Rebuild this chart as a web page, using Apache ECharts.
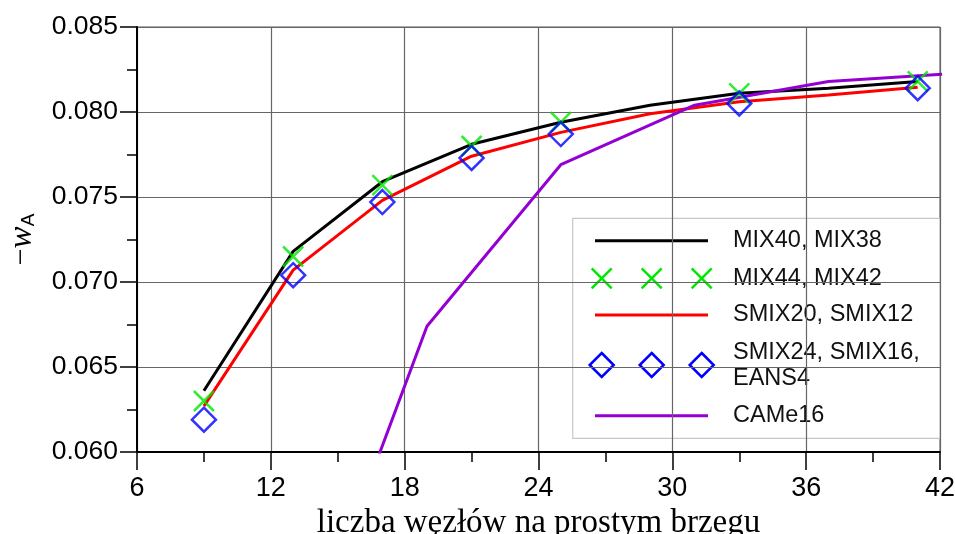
<!DOCTYPE html>
<html>
<head>
<meta charset="utf-8">
<script src="https://cdn.jsdelivr.net/npm/echarts@6/dist/echarts.min.js"></script>
<style>html,body{margin:0;padding:0;background:#fff;}#c{width:955px;height:534px;}</style>
</head>
<body>
<div id="c"></div>
<script>
// ---- data ----
const xLines = [9, 13, 17, 21, 25, 29, 33, 37, 41];
const mix40 = [0.0636, 0.0718, 0.0759, 0.0781, 0.0794, 0.0804, 0.0811, 0.0814, 0.0818];
const smix20 = [0.0627, 0.0707, 0.0748, 0.0774, 0.0788, 0.0799, 0.0806, 0.0810, 0.08145];
const xMarks = [9, 13, 17, 21, 25, 33, 41];
const mix44 = [0.0630, 0.0715, 0.0757, 0.0780, 0.0794, 0.0811, 0.0818];
const smix24 = [0.0619, 0.0704, 0.0747, 0.0773, 0.0787, 0.0805, 0.0814];
const xCame = [13, 19, 25, 31, 37, 43];
const came16 = [0.0463, 0.0674, 0.0769, 0.0804, 0.0818, 0.0823];
const legendNames = ['MIX40, MIX38', 'MIX44, MIX42', 'SMIX20, SMIX12', 'SMIX24, SMIX16,\nEANS4', 'CAMe16'];
const xTicks = {min: 6, max: 42, interval: 6};
const yTicks = {min: 0.060, max: 0.085, interval: 0.005};

const pairs = (xs, ys) => xs.map((x, i) => [x, ys[i]]);

const C_BLACK = '#000000', C_GREEN = '#00e600', C_RED = '#ff0000', C_BLUE = '#0000ff', C_PURPLE = '#9400d3';
const XPATH = 'path://M0,0 L10,10 M10,0 L0,10';

const chart = echarts.init(document.getElementById('c'), null, {renderer: 'canvas'});

// legend drawn as graphic (three markers per row as in reference)
const LX0 = 595, LX1 = 708, LMK = [601.7, 651.7, 701.7], LTX = 733;
const rows = [240.7, 278.3, 315, 365, 415.7];
function xMark(cx, cy, s) {
  return [
    {type: 'line', shape: {x1: cx - s, y1: cy - s, x2: cx + s, y2: cy + s}, style: {stroke: C_GREEN, lineWidth: 2.5}},
    {type: 'line', shape: {x1: cx - s, y1: cy + s, x2: cx + s, y2: cy - s}, style: {stroke: C_GREEN, lineWidth: 2.5}}
  ];
}
function dMark(cx, cy, s) {
  return {type: 'polygon', shape: {points: [[cx, cy - s], [cx + s, cy], [cx, cy + s], [cx - s, cy]]}, style: {fill: 'none', stroke: C_BLUE, lineWidth: 2.5}};
}
const textStyle = (t, y) => ({type: 'text', x: LTX, y: y, style: {text: t, font: '23.5px "Liberation Sans"', fill: '#111', verticalAlign: 'middle', lineHeight: 26}});
const legendEls = [
  {type: 'rect', shape: {x: 572.7, y: 218.3, width: 367.3, height: 220}, style: {fill: '#fff', stroke: '#c8c8c8', lineWidth: 1.2}},
  {type: 'line', shape: {x1: LX0, y1: rows[0], x2: LX1, y2: rows[0]}, style: {stroke: C_BLACK, lineWidth: 3}},
  textStyle(legendNames[0], rows[0]),
  ...LMK.flatMap(cx => xMark(cx, rows[1], 10)),
  textStyle(legendNames[1], rows[1]),
  {type: 'line', shape: {x1: LX0, y1: rows[2], x2: LX1, y2: rows[2]}, style: {stroke: C_RED, lineWidth: 3}},
  textStyle(legendNames[2], rows[2]),
  ...LMK.map(cx => dMark(cx, rows[3], 12)),
  textStyle(legendNames[3], rows[3] + 1),
  {type: 'line', shape: {x1: LX0, y1: rows[4], x2: LX1, y2: rows[4]}, style: {stroke: C_PURPLE, lineWidth: 3}},
  textStyle(legendNames[4], rows[4])
];

const option = {
  animation: false,
  backgroundColor: '#fff',
  grid: {left: 137, right: 15, top: 27, bottom: 82, containLabel: false, outerBoundsMode: 'none', show: true, borderColor: '#555', borderWidth: 1, backgroundColor: 'transparent'},
  xAxis: {
    type: 'value', min: xTicks.min, max: xTicks.max, interval: xTicks.interval,
    axisLine: {onZero: false, lineStyle: {color: '#000', width: 2}},
    axisTick: {show: true, length: 18, lineStyle: {color: '#000', width: 1.5}},
    minorTick: {show: true, splitNumber: 2, length: 10, lineStyle: {color: '#000', width: 1.5}},
    splitLine: {show: true, lineStyle: {color: '#666', width: 1.2}},
    axisLabel: {fontSize: 27, fontFamily: 'Liberation Sans', color: '#000', margin: 23, showMinLabel: true, showMaxLabel: true},
    name: 'liczba węzłów na prostym brzegu', nameLocation: 'middle', nameGap: 46,
    nameTextStyle: {fontFamily: 'Liberation Serif', fontSize: 33, color: '#000'}
  },
  yAxis: {
    type: 'value', min: yTicks.min, max: yTicks.max, interval: yTicks.interval,
    axisLine: {onZero: false, lineStyle: {color: '#000', width: 2}},
    axisTick: {show: true, length: 17, lineStyle: {color: '#000', width: 1.5}},
    minorTick: {show: true, splitNumber: 2, length: 10, lineStyle: {color: '#000', width: 1.5}},
    splitLine: {show: true, lineStyle: {color: '#666', width: 1.2}},
    axisLabel: {fontSize: 26.5, fontFamily: 'Liberation Sans', color: '#000', margin: 19, formatter: v => v.toFixed(3), showMinLabel: true, showMaxLabel: true},
    name: '{m|−}{w|w}{s|A}', nameLocation: 'middle', nameGap: 99, nameRotate: 90,
    nameTextStyle: {
      color: '#000',
      rich: {
        m: {fontFamily: 'Liberation Serif', fontSize: 30, color: '#000', lineHeight: 32},
        w: {fontFamily: 'Liberation Serif', fontStyle: 'italic', fontSize: 33, color: '#000', lineHeight: 32},
        s: {fontFamily: 'Liberation Sans', fontSize: 19, color: '#000', verticalAlign: 'bottom', lineHeight: 19}
      }
    }
  },
  series: [
    {name: legendNames[0], type: 'line', data: pairs(xLines, mix40), showSymbol: false, symbol: 'none', lineStyle: {color: C_BLACK, width: 3}, z: 3},
    {name: legendNames[1], type: 'scatter', data: pairs(xMarks, mix44), symbol: XPATH, symbolSize: 20, itemStyle: {color: 'rgba(0,0,0,0)', borderColor: C_GREEN, borderWidth: 2.5}, z: 4},
    {name: legendNames[2], type: 'line', data: pairs(xLines, smix20), showSymbol: false, symbol: 'none', lineStyle: {color: C_RED, width: 3}, z: 3},
    {name: legendNames[3], type: 'scatter', data: pairs(xMarks, smix24), symbol: 'diamond', symbolSize: [24, 24], itemStyle: {color: 'rgba(0,0,0,0)', borderColor: C_BLUE, borderWidth: 2.5}, z: 4},
    {name: legendNames[4], type: 'line', data: pairs(xCame, came16), showSymbol: false, symbol: 'none', lineStyle: {color: C_PURPLE, width: 3}, clip: true, z: 3}
  ],
  graphic: [{type: 'group', z: 100, children: legendEls}]
};
chart.setOption(option);
</script>
</body>
</html>
